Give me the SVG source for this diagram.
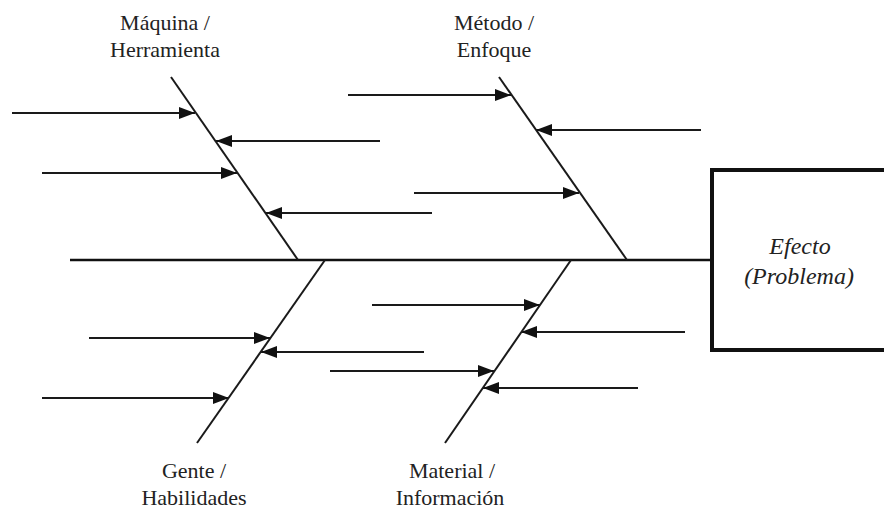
<svg xmlns="http://www.w3.org/2000/svg" width="884" height="510" viewBox="0 0 884 510">
<style>
.lbl{font-family:'Liberation Serif','DejaVu Serif',serif;font-size:22px;fill:#222;text-anchor:middle}
.eff{font-family:'Liberation Serif','DejaVu Serif',serif;font-size:24px;font-style:italic;fill:#222;text-anchor:middle}
.bone{stroke:#1a1a1a;stroke-width:2;fill:none}
.arr{stroke:#1a1a1a;stroke-width:2;fill:none;marker-end:url(#ah)}
.spine{stroke:#111;stroke-width:2.5;fill:none}
</style>
<defs>
<marker id="ah" viewBox="0 0 16 12" refX="16" refY="6" markerWidth="16" markerHeight="12" markerUnits="userSpaceOnUse" orient="auto">
<path d="M0,0 L16,6 L0,12 z" fill="#111"/>
</marker>
</defs>
<rect width="884" height="510" fill="#fff"/>
<g id="connectors">
<line class="spine" x1="70" y1="260" x2="712" y2="260"/>
<line class="arr" x1="12" y1="113" x2="195" y2="113"/>
<line class="arr" x1="380" y1="141" x2="216" y2="141"/>
<line class="arr" x1="42" y1="173" x2="237" y2="173"/>
<line class="arr" x1="432" y1="213" x2="266" y2="213"/>
<line class="arr" x1="348" y1="95" x2="511" y2="95"/>
<line class="arr" x1="701" y1="130" x2="536" y2="130"/>
<line class="arr" x1="414" y1="193" x2="579" y2="193"/>
<line class="arr" x1="89" y1="338" x2="270" y2="338"/>
<line class="arr" x1="424" y1="352" x2="261" y2="352"/>
<line class="arr" x1="42" y1="398" x2="229" y2="398"/>
<line class="arr" x1="372" y1="305" x2="540" y2="305"/>
<line class="arr" x1="685" y1="332" x2="521" y2="332"/>
<line class="arr" x1="330" y1="371" x2="494" y2="371"/>
<line class="arr" x1="638" y1="388" x2="483" y2="388"/>
</g>
<g id="maquina">
<line class="bone" x1="171" y1="77" x2="298" y2="260"/>
<text class="lbl" x="165" y="30">Máquina /</text>
<text class="lbl" x="165" y="57">Herramienta</text>
</g>
<g id="metodo">
<line class="bone" x1="499" y1="77" x2="627" y2="260"/>
<text class="lbl" x="494" y="30">Método /</text>
<text class="lbl" x="494" y="57">Enfoque</text>
</g>
<g id="gente">
<line class="bone" x1="325" y1="260" x2="197" y2="443"/>
<text class="lbl" x="194" y="478">Gente /</text>
<text class="lbl" x="194" y="505">Habilidades</text>
</g>
<g id="material">
<line class="bone" x1="571" y1="260" x2="445" y2="443"/>
<text class="lbl" x="452" y="478">Material /</text>
<text class="lbl" x="450" y="505">Información</text>
</g>
<g id="efecto">
<rect x="712" y="170" width="200" height="180" fill="#fff" stroke="#111" stroke-width="4"/>
<text class="eff" x="800" y="254">Efecto</text>
<text class="eff" x="799" y="284">(Problema)</text>
</g>
</svg>
